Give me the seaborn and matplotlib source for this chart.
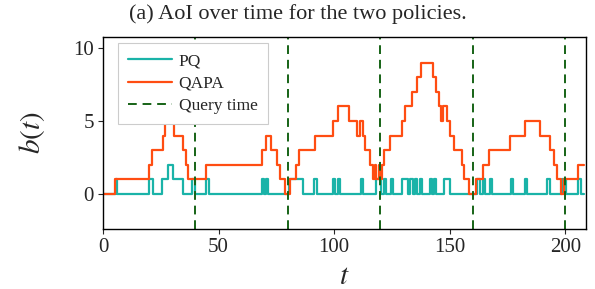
import numpy as np
import pandas as pd
import matplotlib
matplotlib.use("Agg")
import matplotlib.pyplot as plt
import seaborn as sns

# ---- data ----
pq_t = [0, 5.5, 6, 20, 21.5, 25.5, 28, 30.5, 34.5, 38.5, 40, 44.5, 46, 69, 69.7,
        70.5, 71.5, 80.5, 86.5, 91.5, 92.5, 99.5, 100.5, 101.5, 102.5, 111.5, 112.5,
        118, 120.5, 121.5, 122.5, 124.5, 125.5, 129.5, 132, 133, 134, 135, 136, 137,
        138, 141.5, 142.3, 143.3, 144.3, 147.5, 150.3, 161.8, 163, 164.3, 165.5,
        167.3, 168.5, 176.5, 177.5, 182.5, 183.5, 192.3, 193.3, 198.6, 200.3, 205.5,
        206.8, 208]
pq_v = [0, 1, 0, 1, 0, 1, 2, 1, 0, 1, 0, 1, 0, 1, 0,
        1, 0, 1, 0, 1, 0, 1, 0, 1, 0, 1, 0,
        1, 0, 1, 0, 1, 0, 1, 0, 1, 0, 1, 0, 1,
        0, 1, 0, 1, 0, 1, 0, 1, 0, 1, 0,
        1, 0, 1, 0, 1, 0, 1, 0, 1, 0, 1,
        0, 0]

qa_t = [0, 5.2, 20, 21, 26, 27, 28, 29.5, 30.7, 34.5,
        35.9, 36.9, 44.6, 68.9, 70.5, 72.9, 75.2, 76.8, 78.8, 81,
        83.5, 84.7, 91.6, 99.5, 101.8, 106.6, 109.7, 111.3, 112.6, 113.4,
        115.6, 116.7, 117.5, 118.3, 119.3, 119.8, 120.6, 121.4, 124.3, 129.5,
        130.6, 133.5, 135.7, 137.8, 142.6, 144.3, 145.3, 146.3, 147.1, 148.8,
        150.2, 152, 155.5, 156.4, 158.3, 161.2, 164.3, 167.2, 176.2, 182.4,
        189.3, 193.3, 195.3, 196.4, 198.2, 199.5, 205.4, 208]
qa_v = [0, 1, 2, 3, 4, 5, 6, 5, 4, 3,
        2, 1, 2, 3, 4, 3, 2, 1, 0, 1,
        2, 3, 4, 5, 6, 5, 4, 5, 4, 3,
        2, 1, 2, 1, 2, 1, 2, 3, 4, 5,
        6, 7, 8, 9, 8, 7, 6, 5, 6, 5,
        4, 3, 2, 1, 0, 1, 2, 3, 4, 5,
        4, 3, 2, 1, 0, 1, 2, 2]

query_times = [0, 40, 80, 120, 160, 200]
x_ticks = [0, 50, 100, 150, 200]
y_ticks = [0, 5, 10]
title = "(a) AoI over time for the two policies."

# ---- style ----
sns.set_style("ticks")
plt.rcParams["font.family"] = ["Liberation Serif", "DejaVu Serif"]
plt.rcParams["mathtext.fontset"] = "stix"

df_pq = pd.DataFrame({"t": pq_t, "b": pq_v})
df_qa = pd.DataFrame({"t": qa_t, "b": qa_v})

fig = plt.figure(figsize=(5.95, 2.89), dpi=100)
ax = fig.add_axes([103 / 595, 1 - 229 / 289, (586 - 103) / 595, (229 - 37) / 289])

sns.lineplot(data=df_pq, x="t", y="b", ax=ax, color="#1ab3a8", lw=1.6,
             drawstyle="steps-post", label="PQ", estimator=None)
sns.lineplot(data=df_qa, x="t", y="b", ax=ax, color="#ff4d12", lw=1.6,
             drawstyle="steps-post", label="QAPA", estimator=None)
for i, q in enumerate(query_times):
    ax.axvline(q, color="#166316", ls=(0, (4.5, 3)), lw=1.4,
               label="Query time" if i == 0 else None)

ax.set_xlim(0, 209)
ax.set_ylim(-2.4, 10.75)
ax.set_xticks(x_ticks)
ax.set_yticks(y_ticks)
ax.tick_params(labelsize=15, length=3.5, pad=3)
for s in ax.spines.values():
    s.set_visible(True)
    s.set_linewidth(1.0)
    s.set_color("black")

ax.set_xlabel("$t$", fontsize=21, labelpad=5)
ax.set_ylabel("$b(t)$", fontsize=21, labelpad=19)
fig.text(298 / 595, 1 - 14 / 289, title, ha="center", va="center", fontsize=16)

leg = ax.legend(loc="upper left", bbox_to_anchor=(0.031, 0.969), borderaxespad=0,
                fontsize=12.5, frameon=True, framealpha=1.0, fancybox=False,
                edgecolor="#cccccc", handlelength=2.5, handletextpad=0.4,
                borderpad=0.6, labelspacing=0.35)
leg.get_frame().set_linewidth(0.8)

fig.savefig("out.png", dpi=100)
